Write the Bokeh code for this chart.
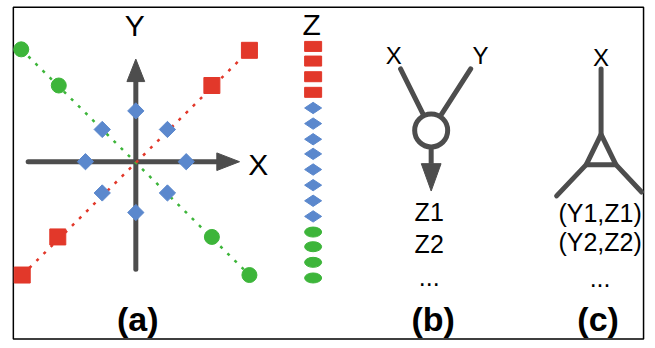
import numpy as np
from bokeh.plotting import figure
from bokeh.models import Range1d
from bokeh.core.properties import value
from bokeh.embed import file_html
from bokeh.resources import INLINE

GRAY = "#4d4d4d"
RED = "#e2382a"
GREEN = "#3db53a"
BLUE = "#5b88cd"
FONT = "Liberation Sans"

# ---- panel (a): three point series around a pair of axes ----
origin_x, origin_y = 137, 165
x_axis_from, x_axis_tip = 28, 242
y_axis_from, y_axis_tip = 275, 60
head_len, head_half = 23, 9
green_x = [21, 59, 214, 252]
green_y = [50, 87, 242, 281]
red_x = [252, 214, 58, 22]
red_y = [51, 87, 242, 281]
blue_x = [137, 103, 169, 86, 188, 103, 169, 137]
blue_y = [113, 132, 132, 165, 165, 197, 197, 217]

# ---- Z column ----
z_x = 316.5
z_red_y = [47, 62, 78, 94]
z_blue_y = [110, 126, 142, 157, 173, 189, 205, 221]
z_green_y = [237, 252, 268, 284]

# ---- panel (b): merge node ----
b_node_x, b_node_y = 436, 133
b_in_x = [405, 476]
b_in_y = [70, 70]
b_arrow_from, b_arrow_tip = 150, 195
b_head_len, b_head_half = 28, 10

# ---- panel (c): split node ----
c_top_x, c_top_y = 608, 70
c_apex_y = 137
c_base_x = [593, 623]
c_base_y = 168
c_leg_x = [563, 649]
c_leg_y = [200, 196]

# ---- texts (vertical centres) ----
big_labels = ["Y", "X", "Z"]
big_lx = [136, 261, 315]
big_ly = [26, 168, 24.5]
node_labels = ["X", "Y", "X"]
node_lx = [398, 486, 608]
node_ly = [56.5, 56.5, 58]
z_list = ["Z1", "Z2", "..."]
z_list_x = 434
z_list_y = [216.5, 249.5, 283]
pair_list = ["(Y1,Z1)", "(Y2,Z2)", "..."]
pair_list_x = 607
pair_list_y = [217, 247, 284]
captions = ["(a)", "(b)", "(c)"]
caption_x = [139, 438, 605]
caption_y = [326.5, 326.5, 326.5]

p = figure(width=647, height=340, x_range=Range1d(0, 655), y_range=Range1d(348, 0),
           x_axis_type=None, y_axis_type=None, output_backend="svg", toolbar_location=None,
           min_border=0, min_border_left=0, min_border_right=0, min_border_top=0, min_border_bottom=0)
p.grid.visible = False
p.outline_line_color = None
p.background_fill_color = "white"

# frame box
p.quad(left=[13], right=[651], top=[7], bottom=[346.5], fill_color=None, line_color="black", line_width=1.5)

# panel (a) axes
p.line([x_axis_from, x_axis_tip - head_len], [origin_y, origin_y], line_color=GRAY, line_width=5, line_cap="round")
p.line([origin_x, origin_x], [y_axis_from, y_axis_tip + head_len], line_color=GRAY, line_width=5, line_cap="round")
p.patch([x_axis_tip, x_axis_tip - head_len, x_axis_tip - head_len],
        [origin_y, origin_y - head_half, origin_y + head_half], color=GRAY)
p.patch([origin_x, origin_x - head_half, origin_x + head_half],
        [y_axis_tip, y_axis_tip + head_len, y_axis_tip + head_len], color=GRAY)

# dotted diagonals
p.line([green_x[0], green_x[-1]], [green_y[0], green_y[-1]], line_color=GREEN, line_width=2.5, line_dash="3 7")
p.line([red_x[-1], red_x[0]], [red_y[-1], red_y[0]], line_color=RED, line_width=2.5, line_dash="3 7")

# markers
p.scatter(green_x, green_y, marker="circle", size=15, color=GREEN)
p.scatter(red_x, red_y, marker="square", size=16, color=RED)
p.scatter(blue_x, blue_y, marker="square", size=11.5, angle=np.pi / 4, color=BLUE)

# Z column
p.rect([z_x] * len(z_red_y), z_red_y, width=17, height=10, width_units="screen", height_units="screen", color=RED)
p.scatter([z_x] * len(z_blue_y), z_blue_y, marker="diamond", size=17, angle=np.pi / 2, color=BLUE)
p.ellipse([z_x] * len(z_green_y), z_green_y, width=17, height=10, width_units="screen", height_units="screen", color=GREEN)

# panel (b)
p.multi_line([[b_in_x[0], b_node_x], [b_in_x[1], b_node_x]], [[b_in_y[0], b_node_y], [b_in_y[1], b_node_y]],
             line_color=GRAY, line_width=5, line_cap="round")
p.line([b_node_x, b_node_x], [b_arrow_from, b_arrow_tip - b_head_len], line_color=GRAY, line_width=5)
p.patch([b_node_x, b_node_x - b_head_half, b_node_x + b_head_half],
        [b_arrow_tip, b_arrow_tip - b_head_len, b_arrow_tip - b_head_len], color=GRAY)
p.scatter([b_node_x], [b_node_y], marker="circle", size=33, fill_color="white", line_color=GRAY, line_width=5)

# panel (c)
p.line([c_top_x, c_top_x], [c_top_y, c_apex_y], line_color=GRAY, line_width=5, line_cap="round")
p.line([c_top_x, c_base_x[0], c_base_x[1], c_top_x], [c_apex_y, c_base_y, c_base_y, c_apex_y],
       line_color=GRAY, line_width=5, line_join="round")
p.multi_line([[c_base_x[0], c_leg_x[0]], [c_base_x[1], c_leg_x[1]]], [[c_base_y, c_leg_y[0]], [c_base_y, c_leg_y[1]]],
             line_color=GRAY, line_width=5, line_cap="round")

# texts
common = dict(text_font=value(FONT), text_align="center", text_baseline="middle", text_color="black")
p.text(big_lx, big_ly, text=big_labels, text_font_size=value("30px"), **common)
p.text(node_lx, node_ly, text=node_labels, text_font_size=value("24px"), **common)
p.text([z_list_x] * 3, z_list_y, text=z_list, text_font_size=value("25px"), **common)
p.text([pair_list_x] * 3, pair_list_y, text=pair_list, text_font_size=value("25px"), **common)
p.text(caption_x, caption_y, text=captions, text_font_size=value("34px"), text_font_style="bold", **common)

open("out.html", "w").write(file_html(p, INLINE))
